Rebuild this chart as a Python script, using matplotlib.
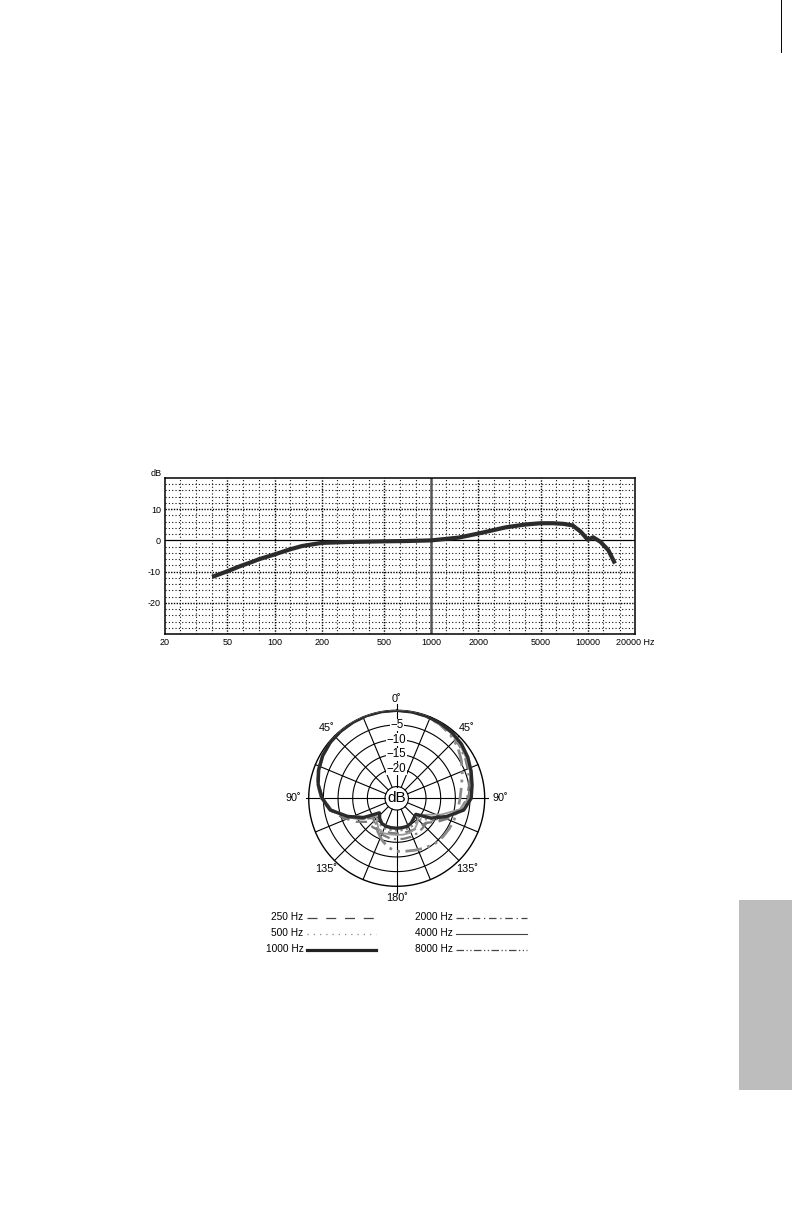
import numpy as np
import matplotlib
matplotlib.use("Agg")
import matplotlib.pyplot as plt
from matplotlib.patches import Rectangle

plt.rcParams['font.family'] = ['Liberation Sans', 'DejaVu Sans']

# ---- frequency response ----
freq_hz = [40, 50, 60, 70, 80, 100, 125, 150, 200, 300, 500, 700, 1000, 1500,
           2000, 3000, 4000, 5000, 6000, 7000, 8000, 9000, 10000, 10800, 12000,
           13500, 14900]
resp_db = [-11.7, -9.9, -8.3, -7.1, -6.0, -4.5, -2.9, -1.8, -0.8, -0.5, -0.3,
           -0.2, 0.0, 0.9, 2.2, 4.2, 5.1, 5.5, 5.5, 5.3, 4.8, 2.8, 0.2, 1.0,
           -0.4, -3.1, -7.4]

xtick_vals = [20, 50, 100, 200, 500, 1000, 2000, 5000, 10000, 20000]
xtick_text = ["20", "50", "100", "200", "500", "1000", "2000", "5000", "10000", "20000 Hz"]
ytick_vals = [-20, -10, 0, 10]
ytick_text = ["-20", "-10", "0", "10"]
grid_minor_f = [25, 31.5, 40, 63, 80, 125, 160, 250, 315, 400, 630, 800,
                1250, 1600, 2500, 3150, 4000, 6300, 8000, 12500, 16000]
grid_major_f = [50, 100, 200, 500, 2000, 5000, 10000]
grid_minor_db = [18, 16, 14, 12, 8, 6, 4, 2, -2, -4, -6, -8, -12, -14, -16,
                 -18, -22, -24, -26, -28]
grid_major_db = [10, -10, -20]

# ---- polar pattern (degrees clockwise from front, dB) ----
angles = [0, 10, 20, 30, 40, 50, 60, 70, 80, 90, 100, 110, 120, 130, 140, 150,
          160, 170, 180, 190, 200, 210, 220, 230, 240, 250, 260, 270, 280, 290,
          300, 310, 320, 330, 340, 350]
p250 = [0, -0.1, -0.2, -0.4, -0.7, -1.3, -2.2, -3.3, -4.6, -5.6, -7.5, -10.5,
        -14.0, -17.0, -17.5, -17.8, -18.0, -18.0, -18.0, -18.0, -18.0, -17.5,
        -17.2, -17.5, -14.0, -10.5, -6.8, -4.2, -2.5, -1.4, -0.8, -0.4, -0.2,
        0, 0, 0]
p500 = [0, -0.1, -0.2, -0.4, -0.8, -1.3, -2.1, -3.1, -4.0, -4.9, -7.2, -11.0,
        -15.5, -19.0, -19.5, -19.2, -19.0, -19.0, -19.0, -19.0, -19.0, -19.3,
        -20.0, -20.5, -16.5, -11.8, -7.2, -4.7, -2.9, -1.7, -0.9, -0.4, -0.2,
        -0.1, 0, 0]
p1000 = [0, -0.1, -0.2, -0.4, -0.7, -1.2, -2.0, -3.0, -3.9, -4.6, -6.8, -11.9,
         -16.5, -21.5, -21.0, -20.2, -19.8, -19.8, -19.8, -19.8, -19.8, -20.0,
         -21.0, -22.3, -16.8, -12.0, -7.0, -4.6, -2.8, -1.7, -0.9, -0.4, -0.2,
         -0.1, 0, 0]
p2000 = [0, -0.1, -0.3, -0.7, -1.3, -2.1, -3.0, -4.0, -5.0, -6.0, -8.0, -11.5,
         -15.0, -16.8, -16.5, -16.2, -16.0, -16.0, -16.0, -16.2, -16.6, -17.2,
         -18.5, -19.5, -16.0, -11.8, -7.4, -4.9, -3.0, -1.8, -1.0, -0.5, -0.2,
         -0.1, 0, 0]
p4000 = [0, -0.1, -0.3, -0.6, -1.1, -1.8, -2.6, -3.4, -4.2, -5.2, -8.2, -13.8,
         -18.8, -20.5, -19.0, -17.8, -17.4, -17.4, -17.5, -17.5, -17.3, -17.8,
         -19.5, -21.0, -17.5, -12.5, -7.5, -4.8, -2.9, -1.8, -1.0, -0.5, -0.2,
         -0.1, 0, 0]
p8000 = [0, -0.1, -0.3, -0.8, -1.6, -2.8, -4.5, -6.2, -7.6, -8.4, -8.8, -9.1,
         -9.3, -9.5, -9.8, -10.5, -11.2, -11.7, -11.9, -13.0, -15.0, -17.0,
         -19.0, -20.0, -16.0, -11.5, -7.0, -4.5, -2.6, -1.5, -0.8, -0.4, -0.2,
         -0.1, 0, 0]
ring_db = [0, -5, -10, -15, -20]
ring_text = ["\u22125", "\u221210", "\u221215", "\u221220"]

W, H = 792, 1224
fig = plt.figure(figsize=(W / 100, H / 100), dpi=100)
fig.patch.set_facecolor("white")

# ================= frequency response chart =================
ax = fig.add_axes([165 / W, 1 - 634 / H, 470 / W, 156 / H])
ax.set_xscale("log")
ax.set_xlim(20, 20000)
ax.set_ylim(-30, 20)

for f in grid_minor_f:
    ax.axvline(f, color="#111111", lw=0.8, ls=(0, (1, 2)), zorder=1)
for f in grid_major_f:
    ax.axvline(f, color="#000000", lw=1.0, ls=(0, (1, 1)), zorder=1)
for d in grid_minor_db:
    ax.axhline(d, color="#111111", lw=0.8, ls=(0, (1, 2)), zorder=1)
for d in grid_major_db:
    ax.axhline(d, color="#000000", lw=1.0, ls=(0, (1, 1)), zorder=1)
ax.axhline(0, color="black", lw=0.9, zorder=2)
ax.axvline(1000, color="#555555", lw=1.8, zorder=2)

ax.plot(freq_hz, resp_db, color="#2b2b2b", lw=3.0, solid_capstyle="butt", zorder=3)

ax.set_xticks(xtick_vals)
ax.set_xticklabels(xtick_text, fontsize=6.5)
ax.set_xticks([], minor=True)
ax.set_yticks(ytick_vals)
ax.set_yticklabels(ytick_text, fontsize=6.5)
ax.tick_params(length=0, pad=3)
for s in ax.spines.values():
    s.set_linewidth(1.1)
ax.text(-0.006, 1.0, "dB", transform=ax.transAxes, ha="right", va="bottom",
        fontsize=6.5)

# ================= polar pattern =================
cx, cy, R = 396.7, 798.3, 88
pax = fig.add_axes([(cx - R) / W, 1 - (cy + R) / H, 2 * R / W, 2 * R / H],
                   projection="polar")
pax.set_theta_zero_location("N")
pax.set_theta_direction(-1)
pax.set_ylim(-30, 0)
pax.grid(False)
pax.set_xticks([])
pax.set_yticks([])
pax.spines["polar"].set_visible(False)
pax.patch.set_alpha(0)

th_full = np.linspace(0, 2 * np.pi, 361)
for d in ring_db:
    pax.plot(th_full, np.full_like(th_full, d), color="black",
             lw=1.0 if d == 0 else 0.8, zorder=1, clip_on=False)
inner_db = -26.0
pax.plot(th_full, np.full_like(th_full, inner_db), color="black", lw=0.8, zorder=1)
for k in range(16):
    t = np.deg2rad(k * 22.5)
    if k in (0, 8):
        outer = 2.3
    elif k in (4, 12):
        outer = 1.0
    else:
        outer = 0
    pax.plot([t, t], [inner_db, outer], color="black", lw=0.8, zorder=1,
             clip_on=False)

# labels along the front axis
for d, lab in zip(ring_db[1:], ring_text):
    pax.text(0, d, lab, ha="center", va="center", fontsize=8.3, zorder=2,
             bbox=dict(facecolor="white", edgecolor="none", pad=0.3))
pax.text(0, -30, "dB", ha="center", va="center", fontsize=11, zorder=6)

ang_labels = [(0, "0\u02da", 3.9), (45, "45\u02da", 3.9), (90, "90\u02da", 5.2),
              (135, "135\u02da", 4.2), (180, "180\u02da", 3.9), (225, "135\u02da", 4.2),
              (270, "90\u02da", 5.2), (315, "45\u02da", 3.9)]
for a, lab, r in ang_labels:
    pax.text(np.deg2rad(a), r, lab, ha="center", va="center", fontsize=7.8,
             clip_on=False)

th = np.deg2rad(angles + [360])
def closed(v):
    return list(v) + [v[0]]

pax.plot(th, closed(p250), color="#777777", lw=1.6, ls=(0, (5, 3)), zorder=3)
pax.plot(th, closed(p500), color="#8a8a8a", lw=1.6, ls=(0, (1, 1.5)), zorder=3)
pax.plot(th, closed(p2000), color="#7a7a7a", lw=1.6, ls=(0, (5, 2, 1, 2)), zorder=3)
pax.plot(th, closed(p4000), color="#999999", lw=1.3, zorder=3)
pax.plot(th, closed(p8000), color="#8a8a8a", lw=2.0, ls=(0, (6, 2, 1, 2, 1, 2)),
         zorder=3)
pax.plot(th, closed(p1000), color="#2b2b2b", lw=2.4, zorder=4)

# ================= overlay: legend, tab, margin line =================
ov = fig.add_axes([0, 0, 1, 1])
ov.set_xlim(0, W)
ov.set_ylim(H, 0)
ov.axis("off")
ov.patch.set_alpha(0)

leg_left = [("250 Hz", dict(color="#444444", lw=0.9, ls=(0, (8, 7)))),
            ("500 Hz", dict(color="#888888", lw=0.9, ls=(0, (1, 4)))),
            ("1000 Hz", dict(color="#222222", lw=2.3, ls="-"))]
leg_right = [("2000 Hz", dict(color="#444444", lw=0.9, ls=(0, (6, 3, 1, 3)))),
             ("4000 Hz", dict(color="#444444", lw=0.8, ls="-")),
             ("8000 Hz", dict(color="#444444", lw=0.9, ls=(0, (6, 2, 1, 2, 1, 2))))]
rows_y = [917.5, 933.5, 949.5]
for (lab, st), y in zip(leg_left, rows_y):
    ov.text(303.5, y, lab, ha="right", va="center", fontsize=7.3)
    ov.plot([307, 376], [y, y], **st)
for (lab, st), y in zip(leg_right, rows_y):
    ov.text(452.5, y, lab, ha="right", va="center", fontsize=7.3)
    ov.plot([456, 527], [y, y], **st)

ov.add_patch(Rectangle((739, 900), W - 739, 190, facecolor="#bdbdbd",
                       edgecolor="none"))
ov.plot([781, 781], [0, 52], color="black", lw=0.7)

fig.savefig("out.png", dpi=100, facecolor="white")
